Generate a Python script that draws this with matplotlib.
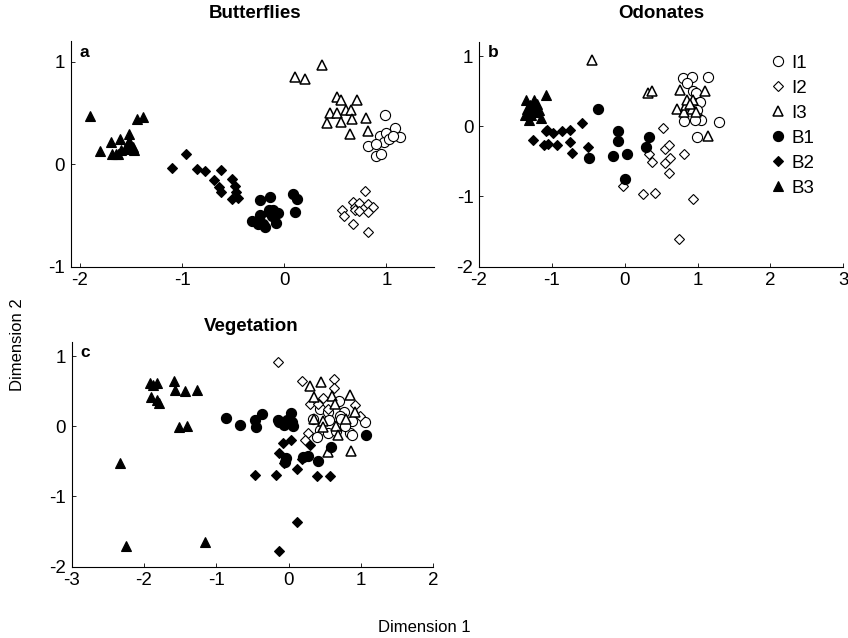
import matplotlib
matplotlib.use("Agg")
import matplotlib.pyplot as plt
from matplotlib.lines import Line2D

plt.rcParams["font.family"] = ["Liberation Sans", "DejaVu Sans"]
plt.rcParams["axes.unicode_minus"] = False

GROUPS = ["I1", "I2", "I3", "B1", "B2", "B3"]

# Butterflies (panel a)
butterflies_I1 = [(0.99, 0.48), (0.82, 0.18), (0.90, 0.08), (0.95, 0.10), (0.94, 0.28), (0.98, 0.22),
                  (1.00, 0.30), (1.02, 0.25), (1.08, 0.35), (1.13, 0.27), (0.90, 0.20), (1.06, 0.28)]
butterflies_I2 = [(0.79, -0.26), (0.56, -0.45), (0.58, -0.51), (0.67, -0.58), (0.82, -0.66), (0.67, -0.37),
                  (0.69, -0.42), (0.73, -0.38), (0.69, -0.45), (0.73, -0.46), (0.82, -0.39), (0.87, -0.42),
                  (0.82, -0.47)]
butterflies_I3 = [(0.10, 0.85), (0.20, 0.83), (0.37, 0.97), (0.52, 0.66), (0.55, 0.63), (0.71, 0.63),
                  (0.45, 0.50), (0.52, 0.50), (0.60, 0.53), (0.65, 0.53), (0.42, 0.40), (0.55, 0.41),
                  (0.66, 0.44), (0.80, 0.45), (0.64, 0.29), (0.82, 0.32)]
butterflies_B1 = [(-0.24, -0.35), (-0.14, -0.32), (0.09, -0.29), (0.12, -0.34), (0.10, -0.47), (-0.32, -0.55),
                  (-0.24, -0.50), (-0.21, -0.58), (-0.19, -0.61), (-0.15, -0.47), (-0.12, -0.51), (-0.08, -0.57),
                  (-0.06, -0.48), (-0.15, -0.45), (-0.26, -0.58), (-0.11, -0.45)]
butterflies_B2 = [(-1.10, -0.04), (-0.96, 0.10), (-0.85, -0.05), (-0.78, -0.07), (-0.69, -0.15), (-0.62, -0.06),
                  (-0.64, -0.22), (-0.51, -0.14), (-0.48, -0.21), (-0.47, -0.27), (-0.51, -0.34), (-0.45, -0.33),
                  (-0.62, -0.27)]
butterflies_B3 = [(-1.90, 0.47), (-1.80, 0.13), (-1.70, 0.22), (-1.69, 0.10), (-1.65, 0.10), (-1.61, 0.25),
                  (-1.60, 0.14), (-1.63, 0.10), (-1.52, 0.29), (-1.53, 0.20), (-1.48, 0.17), (-1.47, 0.14),
                  (-1.44, 0.44), (-1.38, 0.46), (-1.56, 0.15), (-1.52, 0.23)]

# Odonates (panel b)
odonates_I1 = [(0.80, 0.69), (0.92, 0.70), (1.14, 0.70), (0.85, 0.61), (0.94, 0.50), (0.98, 0.47),
               (1.03, 0.35), (0.99, 0.23), (1.01, 0.12), (1.05, 0.09), (0.81, 0.08), (1.29, 0.06),
               (0.99, -0.15), (0.97, 0.09)]
odonates_I2 = [(-0.03, -0.85), (0.25, -0.96), (0.42, -0.95), (0.34, -0.39), (0.38, -0.51), (0.53, -0.02),
               (0.55, -0.33), (0.55, -0.52), (0.61, -0.26), (0.62, -0.45), (0.61, -0.66), (0.81, -0.40),
               (0.94, -1.04), (0.75, -1.61)]
odonates_I3 = [(-0.45, 0.94), (0.32, 0.47), (0.37, 0.50), (0.76, 0.51), (1.10, 0.50), (0.72, 0.24),
               (0.81, 0.20), (0.84, 0.30), (0.86, 0.38), (0.94, 0.37), (0.93, 0.24), (0.98, 0.20),
               (1.14, -0.14), (0.90, 0.32)]
odonates_B1 = [(-0.36, 0.24), (-0.49, -0.45), (-0.09, -0.07), (-0.09, -0.21), (-0.16, -0.43), (0.03, -0.40),
               (0.00, -0.75), (0.29, -0.30), (0.34, -0.16)]
odonates_B2 = [(-1.26, -0.20), (-1.11, -0.27), (-1.06, -0.05), (-1.05, -0.25), (-0.98, -0.09), (-0.93, -0.27),
               (-0.86, -0.07), (-0.75, -0.05), (-0.75, -0.22), (-0.73, -0.38), (-0.58, 0.05), (-0.50, -0.30),
               (-1.08, -0.07)]
odonates_B3 = [(-1.35, 0.37), (-1.32, 0.20), (-1.31, 0.09), (-1.25, 0.37), (-1.23, 0.28), (-1.20, 0.32),
               (-1.17, 0.23), (-1.15, 0.12), (-1.08, 0.44), (-1.37, 0.16), (-1.28, 0.16), (-1.22, 0.20),
               (-1.30, 0.30), (-1.34, 0.25)]

# Vegetation (panel c)
vegetation_I1 = [(0.43, 0.24), (0.55, 0.21), (0.69, 0.36), (0.76, 0.21), (0.71, 0.14), (0.33, 0.10),
                 (0.56, 0.09), (0.73, 0.10), (0.87, 0.07), (1.06, 0.06), (0.43, -0.05), (0.39, -0.15),
                 (0.55, -0.09), (0.85, -0.09), (0.87, -0.13), (0.66, -0.07), (0.78, 0.00)]
vegetation_I2 = [(-0.15, 0.91), (0.19, 0.64), (0.63, 0.67), (0.63, 0.54), (0.48, 0.40), (0.29, 0.31),
                 (0.92, 0.30), (0.98, 0.14), (0.27, -0.09), (0.23, -0.20), (0.40, 0.32), (0.55, 0.25)]
vegetation_I3 = [(0.30, 0.57), (0.45, 0.63), (0.35, 0.41), (0.60, 0.43), (0.85, 0.44), (0.64, 0.31),
                 (0.92, 0.20), (0.35, 0.10), (0.48, 0.07), (0.79, 0.11), (0.66, 0.01), (0.48, -0.01),
                 (0.68, -0.12), (0.54, -0.37), (0.86, -0.35)]
vegetation_B1 = [(-0.86, 0.12), (-0.67, 0.02), (-0.47, 0.09), (-0.37, 0.17), (-0.45, -0.01), (-0.13, 0.06),
                 (-0.07, 0.02), (0.03, 0.19), (0.04, 0.06), (-0.15, 0.09), (-0.02, 0.09), (0.06, 0.01),
                 (-0.03, -0.45), (-0.05, -0.51), (0.20, -0.44), (0.27, -0.42), (0.40, -0.50), (0.58, -0.29),
                 (1.07, -0.13)]
vegetation_B2 = [(-0.47, -0.70), (-0.18, -0.70), (-0.14, 0.09), (-0.08, -0.24), (0.03, -0.19), (-0.13, -0.38),
                 (-0.07, -0.53), (0.11, -0.61), (0.29, -0.26), (0.19, -0.47), (0.39, -0.71), (0.57, -0.71),
                 (0.11, -1.37), (-0.14, -1.77)]
vegetation_B3 = [(-1.92, 0.62), (-1.82, 0.62), (-1.87, 0.59), (-1.91, 0.42), (-1.82, 0.38), (-1.79, 0.33),
                 (-1.59, 0.64), (-1.57, 0.52), (-1.43, 0.50), (-1.27, 0.52), (-1.51, -0.01), (-1.41, 0.01),
                 (-2.33, -0.53), (-2.25, -1.71), (-1.15, -1.65)]

STYLE = {
    "I1": dict(marker="o", ms=7.3, mfc="white", mec="black", mew=0.8),
    "I2": dict(marker="D", ms=4.6, mfc="white", mec="black", mew=0.8),
    "I3": dict(marker="^", ms=7.0, mfc="white", mec="black", mew=1.1),
    "B1": dict(marker="o", ms=7.3, mfc="black", mec="black", mew=0.8),
    "B2": dict(marker="D", ms=5.4, mfc="black", mec="black", mew=0.8),
    "B3": dict(marker="^", ms=7.5, mfc="black", mec="black", mew=0.8),
}

W, H = 848, 638
fig = plt.figure(figsize=(W / 100, H / 100), dpi=100)


def px_axes(left, top, right, bottom):
    return fig.add_axes([left / W, 1 - bottom / H, (right - left) / W, (bottom - top) / H])


def draw_panel(ax, data, title, title_xy, letter, xlim, ylim, xticks, yticks):
    for g in GROUPS:
        pts = data[g]
        ax.plot([p[0] for p in pts], [p[1] for p in pts], ls="none", **STYLE[g], label=g)
    ax.set_xlim(*xlim)
    ax.set_ylim(*ylim)
    ax.set_xticks(xticks)
    ax.set_yticks(yticks)
    ax.spines["top"].set_visible(False)
    ax.spines["right"].set_visible(False)
    ax.tick_params(direction="in", length=3, width=0.6, labelsize=13.5, pad=4)
    # titles sit at different heights above each panel in the original
    fig.text(title_xy[0] / W, 1 - title_xy[1] / H, title, fontsize=13.5, fontweight="bold",
             ha="center", va="center")
    ax.text(0.025, 0.985, letter, transform=ax.transAxes, fontsize=12.5, fontweight="bold",
            ha="left", va="top")


ax_a = px_axes(70.7, 41.2, 433.5, 266.7)
ax_b = px_axes(479.0, 42.0, 843.3, 266.7)
ax_c = px_axes(71.7, 342.0, 433.3, 566.7)

draw_panel(ax_a, {"I1": butterflies_I1, "I2": butterflies_I2, "I3": butterflies_I3,
                  "B1": butterflies_B1, "B2": butterflies_B2, "B3": butterflies_B3},
           "Butterflies", (255, 13), "a", (-2.09, 1.46), (-1, 1.2), [-2, -1, 0, 1], [-1, 0, 1])
draw_panel(ax_b, {"I1": odonates_I1, "I2": odonates_I2, "I3": odonates_I3,
                  "B1": odonates_B1, "B2": odonates_B2, "B3": odonates_B3},
           "Odonates", (661, 13), "b", (-2, 3), (-2, 1.2), [-2, -1, 0, 1, 2, 3], [-2, -1, 0, 1])
draw_panel(ax_c, {"I1": vegetation_I1, "I2": vegetation_I2, "I3": vegetation_I3,
                  "B1": vegetation_B1, "B2": vegetation_B2, "B3": vegetation_B3},
           "Vegetation", (251, 327), "c", (-3, 2), (-2, 1.2), [-3, -2, -1, 0, 1, 2], [-2, -1, 0, 1])

handles = [Line2D([], [], ls="none", **STYLE[g]) for g in GROUPS]
ax_b.legend(handles, GROUPS, loc="upper left", bbox_to_anchor=(0.77, 0.985), frameon=False,
            fontsize=13.5, handlelength=1.0, handletextpad=0.2, labelspacing=0.42, borderpad=0)

fig.text(18 / W, 1 - 345 / H, "Dimension 2", rotation=90, ha="center", va="center", fontsize=12)
fig.text(424 / W, 1 - 628 / H, "Dimension 1", ha="center", va="center", fontsize=12)

fig.savefig("out.png", dpi=100)
